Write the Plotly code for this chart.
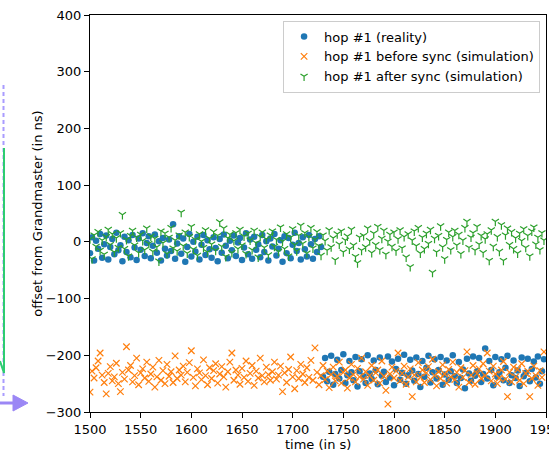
import numpy as np
import plotly.graph_objects as go

# time axis: samples every 2 s
t_all = list(range(1500, 1950, 2))          # 225 samples
t_blue_a = list(range(1500, 1730, 2))       # 115 samples (before step)
t_blue_b = list(range(1730, 1950, 2))       # 110 samples (after step)

reality_before = [
    -20, 8, -33, 2, -12, 14, -28, -4, 11, -31, -9, 5, -22, 16, -15,
    -6, -34, 9, -18, 3, -27, 12, -10, -32, 6, -14, 15, -25, -2, 10,
    -29, -7, 13, -19, 1, -33, 7, -12, -24, 4, -16, 31, -30, -3, 10,
    -21, 6, -35, -9, 14, -26, 0, -17, 9, -31, -5, 12, -23, 3, -13,
    -28, 8, -11, -34, 5, -19, 13, -7, -29, 2, -15, 11, -25, -1, 7,
    -32, -10, 15, -22, 4, -30, 9, -14, -4, -27, 12, -18, 1, -33, 6,
    -8, 14, -24, -12, 3, -35, 10, -20, 7, -29, -5, 16, -16, -2, -31,
    8, -13, -26, 12, -4, -30, 5, -18, 10, -9,
]
reality_after = [
    -238, -205, -246, -229, -201, -252, -233, -208, -241, -226, -198, -249, -235, -210, -230,
    -244, -203, -255, -228, -207, -237, -249, -200, -232, -242, -209, -226, -251, -204, -236,
    -229, -247, -202, -239, -211, -253, -224, -206, -243, -231, -199, -250, -235, -208, -227,
    -245, -204, -233, -256, -210, -238, -222, -201, -248, -230, -207, -241, -226, -203, -252,
    -234, -209, -243, -228, -200, -237, -249, -212, -240, -225, -258, -206, -232, -245, -202,
    -236, -228, -205, -247, -233, -188, -241, -210, -226, -253, -203, -238, -230, -207, -244,
    -222, -201, -249, -235, -209, -240, -227, -254, -204, -237, -231, -206, -246, -224, -211,
    -239, -202, -250, -228, -207,
]
before_sync = [
    -265, -228, -240, -222, -210, -196, -235, -248, -268, -232, -220, -245, -238, -214, -250,
    -264, -230, -242, -185, -226, -218, -247, -236, -205, -252, -231, -224, -240, -212, -246,
    -233, -221, -256, -238, -209, -244, -227, -250, -216, -237, -229, -248, -201, -241, -226,
    -235, -219, -247, -230, -213, -192, -239, -254, -224, -231, -243, -208, -236, -252, -222,
    -241, -227, -215, -249, -233, -220, -238, -256, -229, -212, -196, -244, -226, -235, -251,
    -223, -239, -210, -246, -232, -218, -253, -228, -240, -205, -236, -247, -221, -234, -244,
    -229, -212, -242, -235, -219, -264, -231, -248, -225, -203, -238, -259, -227, -241, -216,
    -233, -248, -222, -239, -209, -244, -187, -230, -252, -236, -218, -243, -228, -257, -234,
    -221, -245, -237, -212, -249, -230, -226, -258, -240, -216, -234, -247, -223, -238, -205,
    -242, -229, -253, -236, -218, -244, -231, -226, -249, -210, -237, -262, -286, -233, -221,
    -240, -228, -196, -245, -232, -219, -251, -238, -224, -273, -235, -247, -213, -239, -226,
    -248, -231, -220, -243, -207, -236, -254, -229, -241, -217, -233, -249, -225, -238, -212,
    -243, -230, -256, -222, -239, -227, -194, -248, -235, -218, -251, -232, -224, -241, -215,
    -236, -196, -228, -245, -219, -233, -250, -240, -226, -211, -242, -273, -230, -247, -221,
    -238, -225, -244, -215, -250, -232, -228, -273, -241, -219, -236, -253, -227, -239, -194,
]
after_sync = [
    5, -30, 12, -8, 18, -15, 3, -22, 9, 22, -5, 14, -18, 7, -10,
    16, 48, -12, 4, -25, 11, 20, -6, 8, -19, 13, 2, -14, 24, -3,
    10, -17, 6, -9, -34, 19, -2, 15, -21, 8, 25, -11, 3, -16, 12,
    52, -7, 17, -20, 9, 27, -13, 4, -24, 14, 1, -10, 21, -18, 6,
    -4, 18, -15, 11, 35, -8, 24, -26, 7, 13, -19, 2, 16, -12, 22,
    -6, 10, -21, 15, 3, -14, 20, -2, -27, 9, 17, -10, 5, -23, 12,
    19, -8, 4, -17, 26, 1, -12, 14, -25, 8, 23, -5, -16, 11, 29,
    -3, 16, -20, 9, 25, -11, 4, 18, -7, -24, 12, 2, -15, 21, -9,
    7, -32, 14, -4, 19, -18, 3, 10, -13, 22, -6, -26, -37, 8, -15,
    11, -9, 24, 2, -19, 15, -5, 27, -14, 6, 20, -22, 1, 13, -8,
    17, -16, 5, 21, -11, 9, -27, 14, -44, 3, 19, -7, 25, -20, 8,
    -12, 15, -3, 22, -54, 6, -18, 11, 28, -9, -30, 4, 17, -14, 9,
    20, -6, 13, -21, 3, 25, 36, -10, 8, 16, -15, 27, -4, 11, -19,
    5, 14, -33, 21, -8, 36, 9, -17, 30, -33, 12, 24, -5, 18, -12,
    7, -20, 15, 2, 23, -10, 11, -25, 19, 26, -4, 8, -14, 16, 3,
]

names = ["hop #1 (reality)", "hop #1 before sync (simulation)", "hop #1 after sync (simulation)"]
x_title = "time (in s)"
y_title = "offset from Grandmaster (in ns)"
BLUE, ORANGE, GREEN = "#1f77b4", "#ff7f0e", "#2ca02c"
FONT = "DejaVu Sans"
FS = 13

fig = go.Figure()
fig.add_trace(go.Scatter(
    x=t_blue_a + t_blue_b, y=reality_before + reality_after, mode="markers", name=names[0],
    marker=dict(symbol="circle", size=6.5, color=BLUE, line=dict(width=0))))
fig.add_trace(go.Scatter(
    x=t_all, y=before_sync, mode="markers", name=names[1],
    marker=dict(symbol="x-thin", size=6.5, color=ORANGE, line=dict(width=1.2, color=ORANGE))))
fig.add_trace(go.Scatter(
    x=t_all, y=after_sync, mode="markers", name=names[2],
    marker=dict(symbol="y-down", size=6, color=GREEN, line=dict(width=1.2, color=GREEN))))

# layout geometry (pixels)
W, H = 549, 452
L, R, T, B = 90, 3, 15, 40
pw, ph = W - L - R, H - T - B

def px(x):
    return (x - L) / pw

def py(y):
    return (H - B - y) / ph

# decorative fragments of a neighbouring diagram on the left edge
shapes = [
    dict(type="line", xref="paper", yref="paper", x0=px(3.5), x1=px(3.5), y0=py(85), y1=py(396),
         line=dict(color="#a99cff", width=2, dash="4px,3px")),
    dict(type="path", xref="paper", yref="paper",
         path=f"M {px(4)},{py(148)} L {px(4)},{py(373)} L {px(0)},{py(361)}",
         line=dict(color="#2ecc71", width=2)),
    dict(type="line", xref="paper", yref="paper", x0=px(0), x1=px(15), y0=py(403), y1=py(403),
         line=dict(color="#9b87f5", width=3)),
    dict(type="path", xref="paper", yref="paper",
         path=f"M {px(13)},{py(395)} L {px(28)},{py(403)} L {px(13)},{py(411)} Z",
         fillcolor="#9b87f5", line=dict(color="#9b87f5", width=1)),
]

axis_common = dict(
    showline=True, linecolor="black", linewidth=1, mirror=True,
    ticks="outside", ticklen=5, tickwidth=1, tickcolor="black",
    showgrid=False, zeroline=False, ticklabeloverflow="allow",
    tickfont=dict(family=FONT, size=FS, color="black"),
)

fig.update_layout(
    width=W, height=H,
    margin=dict(l=L, r=R, t=T, b=B, autoexpand=False),
    paper_bgcolor="white", plot_bgcolor="white",
    font=dict(family=FONT, size=FS, color="black"),
    xaxis=dict(range=[1500, 1950.001], dtick=50, tick0=1500, **axis_common),
    yaxis=dict(range=[-300, 400], dtick=100, tick0=0,
               title=dict(text=y_title, font=dict(family=FONT, size=FS), standoff=0),
               **axis_common),
    legend=dict(x=0.987, y=0.986, xanchor="right", yanchor="top",
                bgcolor="rgba(255,255,255,0.8)", bordercolor="#cccccc", borderwidth=1,
                font=dict(family=FONT, size=FS), tracegroupgap=0, itemwidth=30),
    shapes=shapes,
    annotations=[dict(text=x_title, xref="paper", yref="paper", x=0.5, y=py(444.5),
                      xanchor="center", yanchor="middle", showarrow=False, borderpad=0,
                      font=dict(family=FONT, size=FS, color="black"))],
    showlegend=True,
)

fig.write_html("out.html")
